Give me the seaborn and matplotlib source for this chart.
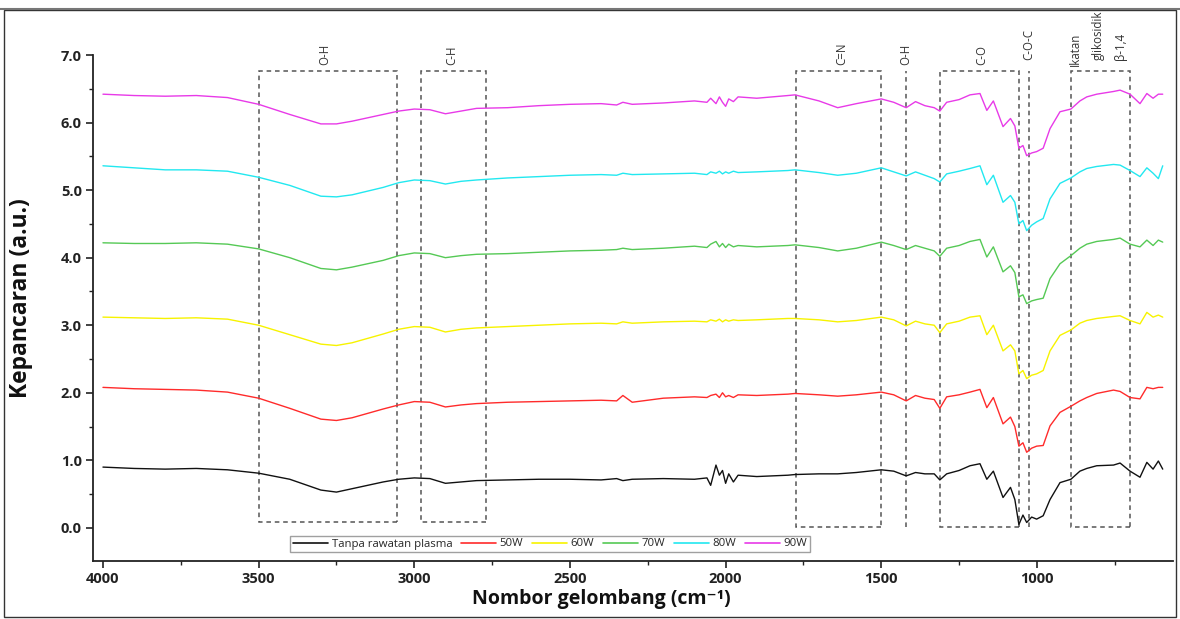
import numpy as np
import pandas as pd
import matplotlib
matplotlib.use("Agg")
import matplotlib.pyplot as plt
from matplotlib.patches import Rectangle
from matplotlib.ticker import MultipleLocator, FormatStrFormatter
import seaborn as sns

# ---------------- data ----------------
wavenumber = [4000, 3900, 3800, 3700, 3600, 3500, 3400, 3300, 3250, 3200, 3100, 3050, 3000, 2950,
              2900, 2850, 2800, 2700, 2600, 2500, 2400, 2350, 2330, 2300, 2200, 2100, 2060, 2048,
              2031, 2020, 2010, 2000, 1990, 1975, 1960, 1900, 1800, 1777, 1700, 1640, 1580, 1500,
              1460, 1420, 1390, 1360, 1330, 1312, 1290, 1250, 1215, 1183, 1161, 1140, 1109, 1085,
              1071, 1058, 1045, 1033, 1017, 1001, 980, 958, 926, 891, 862, 840, 808, 754, 733, 701,
              669, 647, 627, 610, 596]

tanpa = [0.90, 0.88, 0.87, 0.88, 0.86, 0.81, 0.72, 0.56, 0.53, 0.58, 0.68, 0.72, 0.74, 0.73,
         0.66, 0.68, 0.70, 0.71, 0.72, 0.72, 0.71, 0.73, 0.70, 0.72, 0.73, 0.72, 0.74, 0.63,
         0.93, 0.78, 0.85, 0.66, 0.80, 0.68, 0.78, 0.76, 0.78, 0.79, 0.80, 0.80, 0.82, 0.86,
         0.84, 0.77, 0.82, 0.80, 0.80, 0.71, 0.80, 0.85, 0.92, 0.95, 0.72, 0.84, 0.45, 0.60,
         0.42, 0.05, 0.19, 0.08, 0.16, 0.13, 0.18, 0.42, 0.67, 0.72, 0.84, 0.88, 0.92, 0.93, 0.96, 0.84,
         0.75, 0.97, 0.87, 0.99, 0.87]

w50 = [2.08, 2.06, 2.05, 2.04, 2.01, 1.92, 1.77, 1.61, 1.59, 1.63, 1.76, 1.82, 1.87, 1.86,
       1.79, 1.82, 1.84, 1.86, 1.87, 1.88, 1.89, 1.88, 1.96, 1.86, 1.92, 1.94, 1.93, 1.96,
       1.98, 1.93, 2.00, 1.94, 1.96, 1.93, 1.97, 1.96, 1.98, 1.99, 1.97, 1.95, 1.97, 2.01,
       1.97, 1.88, 1.96, 1.92, 1.90, 1.77, 1.94, 1.97, 2.01, 2.05, 1.78, 1.93, 1.54, 1.64,
       1.50, 1.21, 1.26, 1.12, 1.18, 1.21, 1.22, 1.51, 1.71, 1.80, 1.88, 1.93, 1.99, 2.04, 2.02, 1.93,
       1.91, 2.08, 2.06, 2.08, 2.08]

w60 = [3.12, 3.11, 3.10, 3.11, 3.09, 3.00, 2.86, 2.72, 2.70, 2.74, 2.87, 2.94, 2.98, 2.97,
       2.90, 2.94, 2.96, 2.98, 3.00, 3.02, 3.03, 3.02, 3.05, 3.03, 3.05, 3.06, 3.05, 3.08,
       3.06, 3.09, 3.05, 3.08, 3.06, 3.08, 3.07, 3.08, 3.10, 3.10, 3.08, 3.05, 3.07, 3.12,
       3.08, 2.99, 3.06, 3.02, 3.00, 2.89, 3.02, 3.06, 3.12, 3.14, 2.86, 3.00, 2.62, 2.71,
       2.62, 2.28, 2.33, 2.21, 2.26, 2.28, 2.33, 2.62, 2.85, 2.93, 3.03, 3.07, 3.10, 3.13, 3.14, 3.07,
       3.02, 3.19, 3.12, 3.15, 3.12]

w70 = [4.22, 4.21, 4.21, 4.22, 4.20, 4.13, 4.00, 3.84, 3.82, 3.86, 3.96, 4.03, 4.07, 4.06,
       4.00, 4.03, 4.05, 4.06, 4.08, 4.10, 4.11, 4.12, 4.14, 4.12, 4.14, 4.17, 4.15, 4.20,
       4.24, 4.16, 4.21, 4.15, 4.20, 4.16, 4.18, 4.16, 4.18, 4.19, 4.15, 4.10, 4.14, 4.23,
       4.18, 4.12, 4.18, 4.14, 4.10, 4.02, 4.14, 4.18, 4.24, 4.27, 4.01, 4.16, 3.79, 3.88,
       3.78, 3.42, 3.45, 3.32, 3.36, 3.38, 3.40, 3.69, 3.91, 4.03, 4.14, 4.20, 4.24, 4.27, 4.29, 4.20,
       4.16, 4.26, 4.18, 4.26, 4.23]

w80 = [5.36, 5.33, 5.30, 5.30, 5.28, 5.19, 5.07, 4.91, 4.90, 4.93, 5.04, 5.11, 5.15, 5.14,
       5.09, 5.13, 5.15, 5.18, 5.20, 5.22, 5.23, 5.22, 5.25, 5.23, 5.24, 5.25, 5.23, 5.27,
       5.25, 5.28, 5.24, 5.27, 5.25, 5.28, 5.26, 5.27, 5.29, 5.30, 5.26, 5.22, 5.25, 5.33,
       5.27, 5.21, 5.27, 5.22, 5.17, 5.12, 5.24, 5.28, 5.32, 5.36, 5.08, 5.22, 4.82, 4.92,
       4.82, 4.50, 4.55, 4.40, 4.48, 4.53, 4.58, 4.87, 5.10, 5.18, 5.27, 5.32, 5.35, 5.38, 5.37, 5.29,
       5.20, 5.33, 5.25, 5.17, 5.36]

w90 = [6.42, 6.40, 6.39, 6.40, 6.37, 6.27, 6.12, 5.98, 5.98, 6.02, 6.12, 6.17, 6.20, 6.19,
       6.13, 6.17, 6.21, 6.22, 6.25, 6.27, 6.28, 6.26, 6.30, 6.27, 6.29, 6.32, 6.30, 6.36,
       6.28, 6.38, 6.30, 6.24, 6.35, 6.31, 6.38, 6.36, 6.40, 6.41, 6.32, 6.22, 6.28, 6.35,
       6.30, 6.22, 6.31, 6.25, 6.22, 6.17, 6.30, 6.34, 6.41, 6.43, 6.18, 6.32, 5.94, 6.06,
       5.95, 5.62, 5.66, 5.51, 5.55, 5.57, 5.62, 5.91, 6.16, 6.20, 6.32, 6.38, 6.42, 6.46, 6.48, 6.42,
       6.28, 6.43, 6.36, 6.42, 6.42]

series_names = ["Tanpa rawatan plasma", "50W", "60W", "70W", "80W", "90W"]
series_values = [tanpa, w50, w60, w70, w80, w90]
colors = ["#111111", "#FF2B2B", "#F7F300", "#55C955", "#22E8F0", "#E83AE8"]

# band annotations: (label, x_left, x_right) boxes and single lines
boxes = [("O-H", 3500, 3055), ("C-H", 2980, 2770), ("C=N", 1775, 1500),
         ("C-O", 1313, 1057), ("", 890, 700)]
box_bottoms = [0.08, 0.08, 0.02, 0.02, 0.02]
single_lines = [("O-H", 1421), ("C-O-C", 1025)]
box_top = 6.77
band_labels = [("O-H", 3287, 6.85), ("C-H", 2879, 6.85), ("C=N", 1627, 6.85),
               ("O-H", 1421, 6.85), ("C-O", 1177, 6.85), ("C-O-C", 1025, 6.92),
               ("Ikatan", 878, 6.83), ("glikosidik", 804, 6.93), ("β-1,4", 733, 6.93)]

# ---------------- plotting ----------------
sns.set_style("ticks")
plt.rcParams["font.family"] = ["Open Sans", "DejaVu Sans"]

rows = []
for name, vals in zip(series_names, series_values):
    for w, v in zip(wavenumber, vals):
        rows.append((name, w, v))
df = pd.DataFrame(rows, columns=["series", "wavenumber", "value"])

fig = plt.figure(figsize=(11.8, 6.19), dpi=100)
ax = fig.add_axes([93 / 1180, 1 - 561 / 619, 1080 / 1180, 506 / 619])

sns.lineplot(data=df, x="wavenumber", y="value", hue="series", hue_order=series_names,
             palette=colors, sort=False, estimator=None, linewidth=1.0, ax=ax, legend=True)

ax.set_xlim(4032, 563)
ax.set_ylim(-0.49, 7.0)

dash = (0, (3, 2.5))
gcol = "#555555"
for (lab, x0, x1), yb in zip(boxes, box_bottoms):
    ax.add_patch(Rectangle((x1, yb), x0 - x1, box_top - yb, fill=False, edgecolor=gcol,
                           linestyle=dash, linewidth=1.1, zorder=1))
for lab, x in single_lines:
    ax.plot([x, x], [0.02, box_top], color=gcol, linestyle=dash, linewidth=1.1, zorder=1)

for lab, x, y in band_labels:
    ax.text(x, y, lab, rotation=90, ha="center", va="bottom", fontsize=8.3,
            color="#333333", clip_on=False)

# axes styling
sns.despine(ax=ax)
for s in ["left", "bottom"]:
    ax.spines[s].set_color("#222222")
    ax.spines[s].set_linewidth(1.3)
ax.xaxis.set_major_locator(MultipleLocator(500))
ax.xaxis.set_minor_locator(MultipleLocator(250))
ax.yaxis.set_minor_locator(MultipleLocator(0.5))
ax.set_yticks(np.arange(0, 7.01, 1.0))
ax.yaxis.set_major_formatter(FormatStrFormatter("%.1f"))
ax.tick_params(axis="both", which="major", direction="out", length=5, width=1.2,
               labelsize=10.5, colors="#222222", pad=3)
ax.tick_params(axis="both", which="minor", direction="out", length=3, width=1.0,
               colors="#222222")
for t in ax.get_xticklabels() + ax.get_yticklabels():
    t.set_fontweight("bold")

ax.set_xlabel("Nombor gelombang (cm⁻¹)", fontsize=14, fontweight="bold", color="#111111")
ax.set_ylabel("Kepancaran (a.u.)", fontsize=16.5, fontweight="bold", color="#111111")
ax.xaxis.set_label_coords((601 - 93) / 1080, -0.055)
ax.yaxis.set_label_coords(-0.056, 0.52)

handles, labels = ax.get_legend_handles_labels()
leg = ax.legend(handles, labels, loc="center", ncol=6,
                bbox_to_anchor=((550 - 93) / 1080, (561 - 544) / 506),
                fontsize=8.2, frameon=True, fancybox=False, edgecolor="#888888",
                handlelength=3.1, handletextpad=0.3, columnspacing=0.75, borderpad=0.25,
                borderaxespad=0.0)
leg.get_frame().set_linewidth(1.0)
for h in leg.get_lines():
    h.set_linewidth(1.2)

# figure border
fig.add_artist(Rectangle((4 / 1180, 2 / 619), 1172 / 1180, 607 / 619, transform=fig.transFigure,
                         fill=False, edgecolor="#333333", linewidth=1.0))
fig.add_artist(plt.Line2D([0, 1], [1 - 9 / 619, 1 - 9 / 619], transform=fig.transFigure,
                          color="#777777", linewidth=1.5))

fig.savefig("out.png", dpi=100)
